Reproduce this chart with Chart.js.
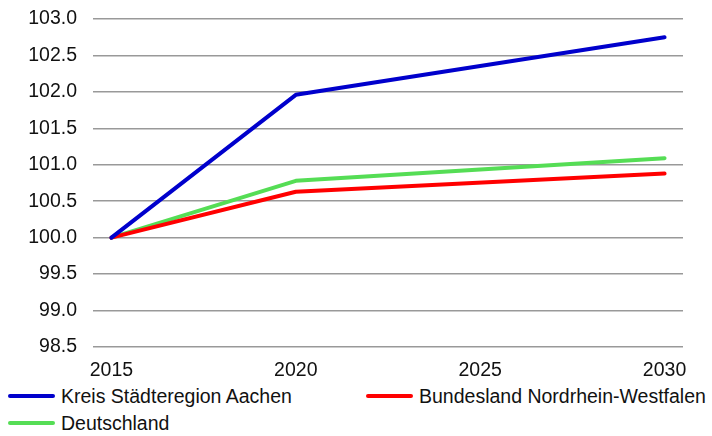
<!DOCTYPE html>
<html>
<head>
<meta charset="utf-8">
<script src="https://cdn.jsdelivr.net/npm/chart.js@4.4.9/dist/chart.umd.min.js"></script>
<style>
    html, body { margin: 0; padding: 0; background: #ffffff; }
    #wrap { position: relative; width: 712px; height: 436px; font-family: "Liberation Sans", Arial, sans-serif; }
    #chart { position: absolute; left: 0; top: 0; }
    #legend { position: absolute; left: 8px; top: 385px; width: 704px; display: grid; grid-template-columns: 358px 346px; row-gap: 5px; }
    .item { display: flex; align-items: center; font-size: 19.5px; color: #111; height: 22px; white-space: nowrap; }
    .swatch { width: 47px; height: 4px; border-radius: 2px; margin-right: 6px; flex: none; }
</style>
</head>
<body>
<div id="wrap">
    <canvas id="chart" width="712" height="382"></canvas>
    <div id="legend"></div>
</div>
<script>
const years = [2015, 2020, 2030];
const xTicks = [2015, 2020, 2025, 2030];
const aachen = [100.0, 101.96, 102.75];
const nrw = [100.0, 100.63, 100.88];
const deutschland = [100.0, 100.78, 101.09];

const seriesNames = ['Kreis Städteregion Aachen', 'Bundesland Nordrhein-Westfalen', 'Deutschland'];
const seriesColors = ['#0000cc', '#ff0000', '#55dd55'];

const toPoints = values => values.map((v, i) => ({ x: years[i], y: v }));

const datasets = [aachen, nrw, deutschland].map((values, i) => ({
    label: seriesNames[i],
    data: toPoints(values),
    borderColor: seriesColors[i],
    backgroundColor: seriesColors[i],
    borderWidth: 4,
    borderCapStyle: 'round',
    borderJoinStyle: 'round',
    pointRadius: 0,
    tension: 0
}));

const font = { family: "'Liberation Sans', Arial, sans-serif", size: 19.5 };

new Chart(document.getElementById('chart').getContext('2d'), {
    type: 'line',
    data: { datasets },
    options: {
        responsive: false,
        animation: false,
        layout: { padding: { top: 19, right: 29, left: 0, bottom: 0 } },
        plugins: { legend: { display: false }, tooltip: { enabled: false } },
        scales: {
            x: {
                type: 'linear',
                min: 2014.5,
                max: 2030.5,
                afterBuildTicks: axis => { axis.ticks = xTicks.map(v => ({ value: v })); },
                grid: { display: false, drawTicks: false },
                border: { display: false },
                ticks: { color: '#111', font, padding: 12, maxRotation: 0, callback: v => String(v) },
                afterFit: axis => { axis.height = 35; axis.paddingLeft = 0; axis.paddingRight = 0; }
            },
            y: {
                min: 98.5,
                max: 103.0,
                grid: { color: '#999999', lineWidth: 1.5, drawTicks: false },
                border: { display: false },
                ticks: { stepSize: 0.5, color: '#111', font, padding: 16, callback: v => v.toFixed(1) },
                afterFit: axis => { axis.width = 93; axis.paddingTop = 0; axis.paddingBottom = 0; }
            }
        }
    }
});

const legend = document.getElementById('legend');
datasets.forEach(ds => {
    const item = document.createElement('div');
    item.className = 'item';
    const sw = document.createElement('span');
    sw.className = 'swatch';
    sw.style.background = ds.borderColor;
    const label = document.createElement('span');
    label.textContent = ds.label;
    item.appendChild(sw);
    item.appendChild(label);
    legend.appendChild(item);
});
</script>
</body>
</html>
